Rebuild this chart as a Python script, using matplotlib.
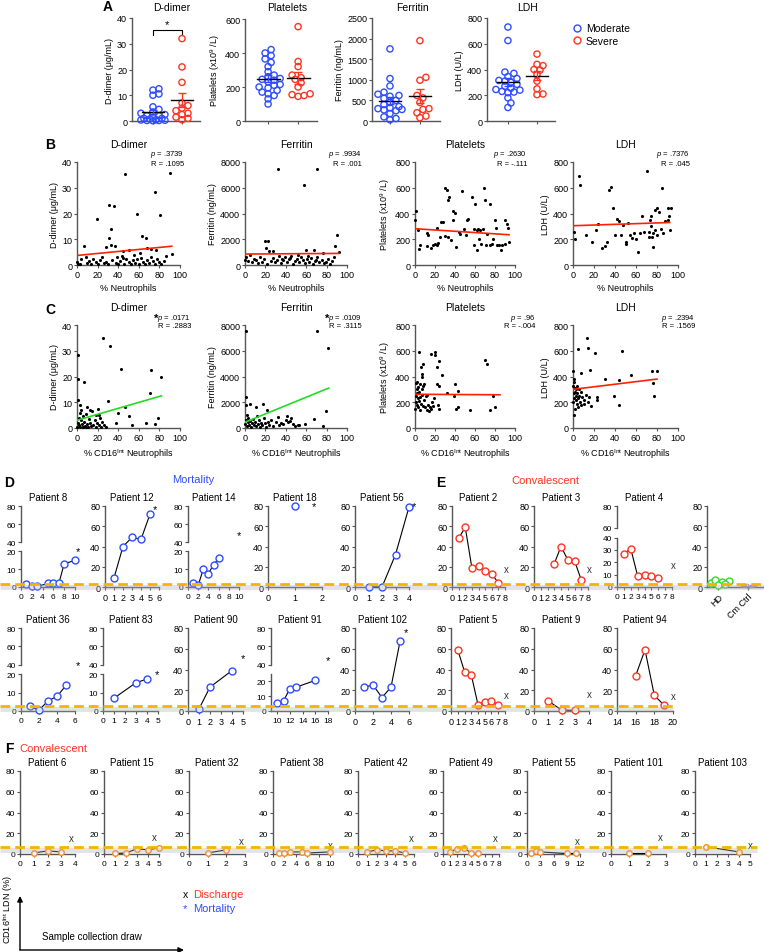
import numpy as np
import matplotlib
matplotlib.use('Agg')
import matplotlib.pyplot as plt

plt.rcParams['font.family'] = 'Liberation Sans'
plt.rcParams['mathtext.fontset'] = 'custom'
plt.rcParams['mathtext.rm'] = 'Liberation Sans'
plt.rcParams['mathtext.it'] = 'Liberation Sans:italic'

W, H = 764, 953
BLUE = '#2f4dff'
RED = '#ff3322'
ORANGE = '#ff8a1c'
GREEN = '#2ddc2d'
GOLD = '#f5b400'
SPINE = '#555555'

# ---------------- panel A data ----------------
ddimer_mod = [12.5, 12, 10.5, 10, 5.5, 4.5, 3.5, 3, 2.5, 2, 2, 1.5, 1, 1, 0.8, 0.5, 0.4, 0.3, 0.2, 0.2, 0.1]
ddimer_sev = [32, 21, 15, 7, 6, 5, 4, 3, 2.5, 1.5, 1, 0.5]
plt_mod = [420, 400, 385, 365, 345, 320, 290, 270, 260, 250, 245, 240, 230, 215, 210, 200, 195, 180, 170, 160, 150, 130, 100]
plt_sev = [555, 350, 320, 270, 255, 245, 225, 200, 160, 155, 150, 145]
ferr_mod = [1750, 1030, 850, 700, 650, 620, 600, 550, 500, 450, 400, 350, 320, 300, 270, 250, 280, 180, 100, 60, 30]
ferr_sev = [1950, 1060, 990, 620, 560, 450, 300, 280, 200, 120, 80]
ldh_mod = [730, 625, 380, 370, 345, 330, 315, 310, 300, 285, 270, 255, 245, 240, 230, 225, 220, 180, 140, 105]
ldh_sev = [520, 440, 430, 400, 395, 360, 310, 250, 210, 205]

# ---------------- panel B data (% neutrophils) ----------------
b_ddimer = np.array([
    [47, 35.2], [90, 35.7], [76, 28.5], [81, 19.3], [31, 23.2], [36, 22.8], [19, 18], [58, 20], [33, 14],
    [31, 10.5], [63, 11.2], [67, 10.3], [7, 7.5], [28, 7], [33, 7.6], [37, 7.5], [45, 5.5], [50, 6], [68, 6.5],
    [72, 6.2], [77, 6], [92, 4.2], [86, 3.5], [61, 4.5], [62, 2.8], [0, 1], [1, 0.3], [3, 0.5], [4, 2.5],
    [9, 3.2], [10, 0.8], [12, 1.5], [14, 0.4], [16, 2.2], [18, 1], [20, 0.3], [22, 1.8], [24, 3], [26, 0.6],
    [28, 1.2], [30, 0.3], [34, 2], [38, 0.8], [40, 0.2], [42, 1.5], [44, 3.5], [46, 0.5], [48, 2.2], [50, 1],
    [52, 0.3], [54, 1.8], [56, 0.6], [58, 2.5], [60, 0.4], [64, 1.2], [66, 0.3], [68, 2], [70, 0.8], [72, 3],
    [74, 1.4], [76, 0.5], [78, 2.3], [80, 1], [82, 0.2], [84, 1.6], [55, 4], [45, 2.8], [39, 3.3]])
b_ferr = np.array([
    [32, 7480], [58, 6200], [71, 7480], [90, 2350], [88, 1500], [20, 1900], [23, 1900], [21, 1350], [24, 1100],
    [27, 1100], [60, 1150], [68, 1150], [76, 900], [92, 1000], [0, 400], [1, 650], [3, 300], [5, 750], [7, 200],
    [9, 500], [11, 350], [13, 150], [15, 600], [17, 250], [19, 450], [22, 100], [25, 300], [27, 550], [29, 200],
    [31, 400], [33, 700], [35, 150], [37, 350], [39, 600], [41, 250], [43, 450], [45, 700], [47, 100], [49, 300],
    [51, 500], [53, 200], [55, 650], [57, 350], [59, 150], [61, 450], [63, 250], [65, 550], [67, 100], [69, 300],
    [71, 600], [73, 200], [75, 400], [77, 150], [79, 250], [81, 500], [83, 100], [85, 300], [87, 650], [52, 800],
    [44, 550], [62, 700], [70, 350], [36, 500]])
b_plat = np.array([
    [0.7, 416], [0, 353], [2.7, 268], [4, 126], [5, 157], [11.7, 250], [13, 235], [12.3, 144], [15.7, 132],
    [18.3, 152], [20, 165], [22.3, 152], [23, 167], [21.7, 287], [25, 217], [26, 333], [27.7, 333], [30, 597],
    [31.7, 579], [33.3, 506], [34.3, 527], [30, 229], [33, 217], [36, 191], [38, 423], [40, 405], [38, 346],
    [41, 140], [46.7, 571], [44.3, 256], [45, 243], [49, 281], [51, 235], [52.3, 346], [53.3, 359], [56.7, 532],
    [60, 475], [59, 281], [61.7, 268], [63.3, 281], [65, 268], [59.3, 157], [61.7, 113], [64.3, 204], [66, 165],
    [68.3, 281], [69.3, 597], [70, 506], [71, 152], [72.3, 243], [75, 475], [76.7, 165], [78.3, 204], [80, 346],
    [80.7, 287], [81.7, 152], [84.3, 152], [86.7, 152], [90, 346], [92.3, 320], [93.3, 287], [90, 165], [94, 175],
    [86, 113], [75, 152]])
b_ldh = np.array([
    [1, 260], [2, 205], [6, 695], [7, 625], [12, 230], [18, 180], [22, 275], [24, 320], [28, 135], [30, 150],
    [32, 175], [34, 585], [36, 605], [38, 440], [40, 230], [42, 355], [44, 340], [46, 230], [48, 310], [50, 175],
    [50, 160], [52, 330], [54, 230], [56, 210], [58, 250], [60, 200], [62, 100], [64, 250], [66, 380], [68, 260],
    [70, 730], [72, 260], [72, 220], [73, 350], [74, 380], [74, 300], [75, 220], [76, 140], [76, 250], [78, 430],
    [78, 270], [80, 230], [80, 440], [82, 410], [84, 280], [85, 600], [86, 250], [88, 340], [90, 445], [90, 350],
    [92, 270], [91, 380], [93, 440]])

# ---------------- panel C data (% CD16int neutrophils) ----------------
c_ddimer = np.array([
    [0.5, 28.5], [0.5, 19], [7, 18], [25, 35], [32, 32], [43, 23], [72, 22.7], [82, 20], [30, 10.5], [71, 13.5],
    [1, 11], [3, 9], [10, 8], [20, 7.5], [40, 6], [47, 8], [21, 5], [50, 4.5], [67, 2], [76, 1.5], [79, 4],
    [38, 2], [53, 1], [0, 0.5], [1, 2], [1.5, 4], [2, 1], [2.5, 6], [3, 0.3], [4, 3], [5, 1.5], [5.5, 0.5],
    [6, 4.5], [7, 2.5], [8, 0.8], [9, 5.5], [10, 1.5], [11, 0.3], [12, 3.5], [13, 2], [14, 0.6], [15, 6.5],
    [16, 1], [17, 3], [18, 0.4], [19, 2], [21, 1], [22, 4], [23, 0.5], [24, 2.5], [26, 1.2], [28, 0.3], [9, 0.2],
    [4, 7], [6, 0.2], [13, 7], [18, 5]])
c_ferr = np.array([
    [0.5, 7500], [71, 7500], [81, 6200], [0.5, 2400], [1, 1800], [5, 1900], [18, 1900], [22, 1400], [11, 1600],
    [68, 700], [41, 900], [45, 800], [79, 1300], [76, 150], [52, 250], [53, 200], [59, 300], [37, 300], [0, 300],
    [1, 600], [1.5, 1000], [2, 150], [2.5, 450], [3, 800], [4, 200], [5, 550], [6, 100], [7, 350], [8, 700],
    [9, 250], [10, 500], [11, 150], [12, 900], [13, 300], [14, 600], [15, 100], [16, 400], [17, 200], [19, 750],
    [20, 350], [21, 100], [23, 500], [24, 250], [25, 650], [27, 150], [30, 450], [33, 200], [35, 350], [40, 650],
    [42, 450], [44, 550], [47, 300], [49, 150], [32, 850]])
c_plat = np.array([
    [4, 590], [6, 475], [8, 500], [7, 420], [7, 400], [9, 345], [8, 330], [16, 575], [20, 590], [20, 570],
    [22, 470], [24, 520], [22, 340], [24, 330], [27, 410], [32, 270], [39, 250], [40, 345], [43, 290], [70, 530],
    [72, 500], [78, 245], [55, 140], [75, 140], [80, 160], [41, 150], [43, 160], [23, 180], [24, 150], [0, 150],
    [0.5, 250], [1, 350], [1, 200], [1.5, 300], [2, 180], [2, 270], [2.5, 230], [3, 320], [3, 160], [3.5, 210],
    [4, 280], [4.5, 140], [5, 240], [6, 190], [6.5, 300], [7, 260], [8, 170], [9, 220], [10, 160], [11, 250],
    [12, 140], [13, 180], [14, 130], [15, 160], [16, 145], [17, 200], [18, 170], [19, 230], [12, 260], [2, 360],
    [5, 340]])
c_ldh = np.array([
    [0, 440], [0.5, 380], [1, 360], [5, 610], [8, 430], [13, 700], [14, 625], [16, 450], [21, 580], [30, 380],
    [44, 370], [47, 600], [55, 410], [75, 440], [80, 440], [76, 350], [77, 250], [17, 170], [23, 220], [44, 180],
    [39, 250], [23, 240], [0, 200], [0, 330], [0.5, 270], [1, 100], [1, 230], [1.5, 310], [2, 150], [2, 280],
    [2.5, 220], [3, 300], [3, 250], [3.5, 190], [4, 330], [4, 270], [5, 230], [5, 160], [6, 300], [6, 250],
    [7, 200], [8, 280], [8, 180], [9, 240], [10, 220], [10, 190], [12, 260], [14, 200], [15, 240]])

# regression lines (x ends, y ends)
b_fits = [([0, 92], [3.7, 7.3]), ([0, 92], [850, 900]), ([0, 94], [282, 235]), ([0, 92], [305, 330])]
c_fits = [([0, 82], [3.0, 12.5]), ([0, 82], [450, 3100]), ([0, 85], [262, 258]), ([0, 80], [300, 380])]
b_stats = [('.3739', '.1095'), ('.9934', '.001'), ('.2630', '-.111'), ('.7376', '.045')]
c_stats = [('.0171', '.2883'), ('.0109', '.3115'), ('.96', '-.004'), ('.2394', '.1569')]
c_signif = [True, True, False, False]

# ---------------- panel D: mortality patients ----------------
p8_day, p8_ldn = [1, 2, 3, 5, 6, 7, 8, 10], [1.5, 0.5, 0.3, 2, 2, 2, 13, 15]
p12_day, p12_ldn = [1, 2, 3, 4, 5], [9, 40, 49, 47, 72]
p14_day, p14_ldn = [1, 2, 3, 4, 5, 6], [2, 1, 10, 7.5, 12.5, 16]
p18_day, p18_ldn = [1], [80]
p56_day, p56_ldn = [1, 2, 3, 4], [0, 0, 32, 79]
p36_day, p36_ldn = [1, 2, 3, 4, 5], [2.5, 0.5, 5.5, 8, 14]
p83_day, p83_ldn = [1, 3, 4], [7, 15.5, 17.5]
p90_day, p90_ldn = [1, 2, 4], [2, 23, 39]
p91_day, p91_ldn = [10, 11, 12, 13, 16], [5.5, 7, 15, 16, 20.5]
p102_day, p102_ldn = [1, 2, 3, 4, 5], [23, 25, 13, 23, 67]
# death marker position (day, value)
p8_death, p12_death, p14_death, p18_death, p56_death = (10.5, 20), (5.6, 77), (10, 48), (1.7, 80), (4.4, 80)
p36_death, p83_death, p90_death, p91_death, p102_death = (6.3, 39), (4.9, 21), (5, 51), (18, 45), (5.7, 76)

# ---------------- panel E: convalescent ----------------
p2_day, p2_ldn = [1, 2, 3, 4, 5, 6, 7], [48, 59, 19, 21, 16, 13, 4]
p3_day, p3_ldn = [3, 4, 5, 6, 7], [23, 40, 27, 26, 7]
p4_day, p4_ldn = [1, 2, 3, 4, 5, 6], [27, 31, 9, 10, 9, 7]
p5_day, p5_ldn = [1, 2, 3, 4, 5, 6, 7], [59, 38, 35, 6, 9, 10, 6]
p9_day, p9_ldn = [1, 2, 3], [10, 1, 0.5]
p94_day, p94_ldn = [16, 17, 18, 19], [34, 59, 15, 6]
p2_dis, p3_dis, p4_dis, p5_dis, p9_dis, p94_dis = (8.2, 18), (8.2, 18), (8.2, 18), (8.2, 15), (4, 16), (20, 14)
hd_ldn = [4, 6, 5, 3, 7, 2]
cm_ldn = [0.5, 1.2, 0.8, 1.5, 0.3, 1.0, 0.6]

# ---------------- panel F: convalescent ----------------
p6_day, p6_ldn = [1, 2, 3], [1, 3, 2]
p15_day, p15_ldn = [1, 2, 3, 4, 5], [0.5, 1, 5, 4, 6]
p32_day, p32_ldn = [1, 2], [1, 4]
p38_day, p38_ldn = [1, 2, 3, 5, 6, 10], [1, 1, 2, 2, 1, 2]
p42_day, p42_ldn = [1, 2, 3, 4, 5], [2, 4, 3, 3, 1]
p49_day, p49_ldn = [1, 2, 3, 4, 5], [2, 5, 6, 1, 0.5]
p55_day, p55_ldn = [1, 2, 3, 9, 11], [1, 3, 2, 0.5, 0.5]
p101_day, p101_ldn = [1, 2], [0.5, 0.5]
p103_day, p103_ldn = [1, 4], [7, 2]
p6_dis, p15_dis, p32_dis, p38_dis, p42_dis = (3.7, 15), (4.6, 16), (2.8, 13), (10, 9), (5.7, 15)
p49_dis, p55_dis, p101_dis, p103_dis = (7.5, 15), (11.5, 13), (2.7, 16), (5, 9)


fig = plt.figure(figsize=(W / 100, H / 100), dpi=100)


def box(l, t, r, b):
    return fig.add_axes([l / W, 1 - b / H, (r - l) / W, (b - t) / H])


def style(ax, fs=6.5):
    for s in ['top', 'right']:
        ax.spines[s].set_visible(False)
    for s in ['left', 'bottom']:
        ax.spines[s].set_color(SPINE)
        ax.spines[s].set_linewidth(1.0)
    ax.tick_params(labelsize=fs, length=2.5, width=0.8, pad=1, color=SPINE)
    ax.patch.set_alpha(0)


def swarm(vals, center, px_x, px_y, d=6.0, cap=14.0):
    # beeswarm-like offsets in pixels, limited to +/- cap
    vals = np.asarray(vals, float)
    xs = np.zeros(len(vals))
    placed = []
    cands = [0.0] + [s * k * d * 0.5 for k in range(1, 30) for s in (1, -1) if k * d * 0.5 <= cap]
    for i in np.argsort(vals):
        yp = vals[i] * px_y
        best, best_d = 0.0, -1
        for off in cands:
            md = min([np.hypot(off - a, yp - b) for a, b in placed] or [99])
            if md >= d * 0.85:
                best = off
                break
            if md > best_d:
                best, best_d = off, md
        placed.append((best, yp))
        xs[i] = center + best / px_x
    return xs


# ================= Panel A =================
a_specs = [
    ((132, 19, 200, 122), (-0.72, 1.62), ddimer_mod, ddimer_sev, 40, [0, 10, 20, 30, 40], 'D-dimer', u'D-dimer (\u03bcg/mL)'),
    ((245, 20, 317, 122), (-0.77, 1.63), plt_mod, plt_sev, 600, [0, 200, 400, 600], 'Platelets', 'Platelets (x10$^{9}$ /L)'),
    ((372, 19, 440, 122), (-0.6, 1.67), ferr_mod, ferr_sev, 2500, [0, 500, 1000, 1500, 2000, 2500], 'Ferritin', 'Ferritin (ng/mL)'),
    ((487, 19, 555, 122), (-0.72, 1.62), ldh_mod, ldh_sev, 800, [0, 200, 400, 600, 800], 'LDH', 'LDH (U/L)'),
]
for (l, t, r, b), xl, mod, sev, ymax, yt, title, ylab in a_specs:
    ax = box(l, t, r, b)
    style(ax)
    ax.set_xlim(*xl)
    ax.set_ylim(0, ymax)
    px_x = (r - l) / (xl[1] - xl[0])
    px_y = (b - t) / ymax
    for k, (vals, col) in enumerate([(mod, BLUE), (sev, RED)]):
        xs = swarm(vals, k, px_x, px_y)
        ax.scatter(xs, vals, s=20, facecolors='none', edgecolors=col, linewidths=1.0, clip_on=False, zorder=3)
        m = np.mean(vals)
        se = np.std(vals, ddof=1) / np.sqrt(len(vals))
        ax.plot([k - 0.38, k + 0.38], [m, m], color='k', lw=1.0, zorder=4)
        ax.errorbar([k], [m], yerr=[se], color=col, capsize=3, lw=1.0, capthick=1.0, zorder=4)
    ax.set_xticks([0, 1])
    ax.set_xticklabels(['', ''])
    ax.set_yticks(yt)
    ax.set_ylabel(ylab, fontsize=6.5, labelpad=2)
    fig.text(((l + r) / 2 + 6) / W, 1 - 8 / H, title, ha='center', va='center', fontsize=7.5)
    if title == 'D-dimer':
        ax.plot([0, 0, 1, 1], [33.5, 35.5, 35.5, 33.5], color='k', lw=0.8)
        ax.text(0.5, 37.5, '*', ha='center', va='center', fontsize=8)

fig.legend(handles=[plt.Line2D([], [], marker='o', ls='none', mfc='none', mec=BLUE, ms=5),
                    plt.Line2D([], [], marker='o', ls='none', mfc='none', mec=RED, ms=5)],
           labels=['Moderate', 'Severe'], loc='upper left', bbox_to_anchor=(566 / W, 1 - 19 / H),
           frameon=False, fontsize=7.5, handletextpad=0.2, labelspacing=0.25, borderpad=0, handlelength=1.2)

# ================= Panels B and C =================
bc_x = [(77, 180), (245, 347), (415, 515), (573, 678)]
bc_titles = ['D-dimer', 'Ferritin', 'Platelets', 'LDH']
bc_ylabels = [u'D-dimer (\u03bcg/mL)', 'Ferritin (ng/mL)', 'Platelets (x10$^{9}$ /L)', 'LDH (U/L)']
bc_ymax = [40, 8000, 800, 800]
bc_yticks = [[0, 10, 20, 30, 40], [0, 2000, 4000, 6000, 8000], [0, 200, 400, 600, 800], [0, 200, 400, 600, 800]]
b_sets = [b_ddimer, b_ferr, b_plat, b_ldh]
c_sets = [c_ddimer, c_ferr, c_plat, c_ldh]
stat_right = [[184, 362, 527, 690], [191, 362, 535, 695]]

for row, (top, bot, sets, fits, stats, xlabel, fitcol) in enumerate([
        (163, 266, b_sets, b_fits, b_stats, '% Neutrophils', ['#ff2200'] * 4),
        (326, 429, c_sets, c_fits, c_stats, '% CD16$^{\\mathrm{Int}}$ Neutrophils', ['#22dd22', '#22dd22', '#ff2200', '#ff2200'])]):
    for j in range(4):
        l, r = bc_x[j]
        ax = box(l, top, r, bot)
        style(ax)
        pts = sets[j]
        ax.scatter(pts[:, 0], pts[:, 1], s=5, color='k', clip_on=False, zorder=3, linewidths=0)
        fx_, fy_ = fits[j]
        ax.plot(fx_, fy_, color=fitcol[j], lw=1.2, zorder=4)
        ax.set_xlim(0, 100)
        ax.set_ylim(0, bc_ymax[j])
        ax.set_xticks([0, 20, 40, 60, 80, 100])
        ax.set_yticks(bc_yticks[j])
        ax.set_ylabel(bc_ylabels[j], fontsize=6.5, labelpad=2)
        ax.set_xlabel(xlabel, fontsize=6.5, labelpad=3)
        fig.text((l + r) / 2 / W, 1 - (top - 18) / H, bc_titles[j], ha='center', va='center', fontsize=7.5)
        p, rv = stats[j]
        xr = stat_right[row][j]
        fig.text(xr / W, 1 - (top - 8) / H, '$p$ = ' + p, ha='right', va='center', fontsize=5.5)
        fig.text(xr / W, 1 - (top + 1) / H, 'R = ' + rv, ha='right', va='center', fontsize=5.5)
        if row == 1 and c_signif[j]:
            fig.text((xr - 33) / W, 1 - (top - 7) / H, '*', ha='right', va='center', fontsize=8,
                     fontweight='bold')

# ================= Panels D, E, F =================
def set_break(ax, lo, hi, top, f_lo, f_hi):
    xp = [-top, 0, lo, hi, top, 2 * top]
    fp = [-f_lo / lo * top, 0, f_lo, f_hi, 1, 1 + (1 - f_hi) / (top - hi) * top]
    ax.set_yscale('function', functions=(lambda v: np.interp(v, xp, fp), lambda v: np.interp(v, fp, xp)))
    ax.set_ylim(0, top)
    ax.spines['left'].set_visible(False)
    tr = ax.get_yaxis_transform()
    ax.plot([0, 0], [0, lo], transform=tr, color=SPINE, lw=1.0, clip_on=False)
    ax.plot([0, 0], [hi, top], transform=tr, color=SPINE, lw=1.0, clip_on=False)


def patient(rect, title, day, ldn, xlim, xt, col, mark=None, sym='*', brk=None, yt=None, ms=5.0, fs=6.5):
    l, t, r, b = rect
    ax = box(l, t, r, b)
    style(ax, fs)
    ax.set_xlim(*xlim)
    if brk:
        set_break(ax, *brk)
    else:
        ax.set_ylim(0, 80)
    ax.set_yticks(yt if yt else [0, 20, 40, 60, 80])
    ax.set_xticks(xt)
    ax.tick_params(axis='x', pad=1.5)
    ax.plot(day, ldn, '-', color='k', lw=0.8, marker='o', ms=ms, mfc='white', mec=col, mew=1.0,
            clip_on=False, zorder=3)
    if mark:
        if sym == '*':
            ax.text(mark[0], mark[1], '*', ha='center', va='center', fontsize=8, clip_on=False)
        else:
            ax.text(mark[0], mark[1], 'x', ha='center', va='center', fontsize=7, color='#333333', clip_on=False)
    fig.text((l + r) / 2 / W, 1 - (t - 9) / H, title, ha='center', va='center', fontsize=7)
    return ax


BRK20 = (20, 40, 80, 0.44, 0.555)
YT20 = [0, 10, 20, 40, 60, 80]

# row 1
patient((21, 507, 75, 588), 'Patient 8', p8_day, p8_ldn, (0, 10), [0, 2, 4, 6, 8, 10], BLUE, p8_death, brk=BRK20, yt=YT20, fs=6)
patient((105, 507, 159, 588), 'Patient 12', p12_day, p12_ldn, (0, 6), range(7), BLUE, p12_death)
patient((188, 507, 239, 588), 'Patient 14', p14_day, p14_ldn, (0, 10), [0, 2, 4, 6, 8, 10], BLUE, p14_death, brk=BRK20, yt=YT20, fs=6)
patient((268, 507, 322, 588), 'Patient 18', p18_day, p18_ldn, (0, 2), [0, 1, 2], BLUE, p18_death)
patient((355, 507, 409, 588), 'Patient 56', p56_day, p56_ldn, (0, 4), range(5), BLUE, p56_death)
patient((452, 507, 505, 588), 'Patient 2', p2_day, p2_ldn, (0, 8), range(9), RED, p2_dis, sym='x')
patient((534, 507, 588, 588), 'Patient 3', p3_day, p3_ldn, (0, 8), range(9), RED, p3_dis, sym='x')
patient((617, 507, 672, 588), 'Patient 4', p4_day, p4_ldn, (0, 8), range(9), RED, p4_dis, sym='x',
        brk=(40, 60, 80, 0.61, 0.73), yt=[0, 10, 20, 30, 40, 60, 80], fs=6)

# healthy donors / control
ax = box(707, 507, 763, 588)
style(ax)
ax.set_xlim(-0.37, 1.5)
ax.set_ylim(0, 80)
ax.set_yticks([0, 20, 40, 60, 80])
hd_x = swarm(hd_ldn, 0, 30, 83 / 80, d=7, cap=12)
ax.plot(hd_x, hd_ldn, 'o', ms=5, mfc='white', mec=GREEN, mew=1.0, clip_on=False, zorder=3)
cm_x = swarm(cm_ldn, 1, 30, 83 / 80, d=3, cap=8)
ax.plot(cm_x, cm_ldn, 'o', ms=2, mfc='none', mec='#9a9a9a', mew=0.6, clip_on=False, zorder=3)
ax.plot([0.75, 1.25], [np.mean(cm_ldn)] * 2, color='#9a9a9a', lw=0.8)
ax.set_xticks([0, 1])
ax.set_xticklabels(['HD', 'Cm Ctrl'], rotation=45, ha='right', rotation_mode='anchor')

# row 2
patient((21, 629, 75, 712), 'Patient 36', p36_day, p36_ldn, (0, 6), [0, 2, 4, 6], BLUE, p36_death,
        brk=BRK20, yt=YT20, fs=6)
patient((103, 629, 158, 712), 'Patient 83', p83_day, p83_ldn, (0, 5), range(6), BLUE, p83_death,
        brk=BRK20, yt=YT20, fs=6)
patient((188, 629, 243, 712), 'Patient 90', p90_day, p90_ldn, (0, 5), range(6), BLUE, p90_death)
patient((271, 629, 328, 712), 'Patient 91', p91_day, p91_ldn, (9, 18), [10, 12, 14, 16, 18], BLUE, p91_death,
        brk=(25, 40, 80, 0.45, 0.555), yt=YT20, fs=6)
patient((355, 629, 409, 712), 'Patient 102', p102_day, p102_ldn, (0, 6), [0, 2, 4, 6], BLUE, p102_death)
patient((451, 629, 505, 712), 'Patient 5', p5_day, p5_ldn, (0, 8), range(9), RED, p5_dis, sym='x')
patient((534, 629, 589, 712), 'Patient 9', p9_day, p9_ldn, (0, 4), range(5), RED, p9_dis, sym='x')
patient((617, 629, 673, 712), 'Patient 94', p94_day, p94_ldn, (14, 20), [14, 16, 18, 20], RED, p94_dis, sym='x')

# row F
f_specs = [
    ((20, 772, 75, 855), 'Patient 6', p6_day, p6_ldn, (0, 4), range(5), p6_dis),
    ((104, 772, 159, 855), 'Patient 15', p15_day, p15_ldn, (0, 5), range(6), p15_dis),
    ((189, 772, 245, 855), 'Patient 32', p32_day, p32_ldn, (0, 3), range(4), p32_dis),
    ((273, 772, 330, 855), 'Patient 38', p38_day, p38_ldn, (0, 10), [0, 2, 4, 6, 8, 10], p38_dis),
    ((358, 772, 414, 855), 'Patient 42', p42_day, p42_ldn, (0, 6), range(7), p42_dis),
    ((443, 772, 499, 855), 'Patient 49', p49_day, p49_ldn, (0, 8), range(9), p49_dis),
    ((527, 772, 580, 855), 'Patient 55', p55_day, p55_ldn, (0, 12), [0, 3, 6, 9, 12], p55_dis),
    ((611, 772, 666, 855), 'Patient 101', p101_day, p101_ldn, (0, 3), range(4), p101_dis),
    ((695, 772, 750, 855), 'Patient 103', p103_day, p103_ldn, (0, 5), range(6), p103_dis),
]
for rect, title, day, ldn, xl, xt, dis in f_specs:
    patient(rect, title, day, ldn, xl, xt, ORANGE, dis, sym='x', ms=4.0, fs=6)

# ================= overlay (pixel coordinates) =================
ov = fig.add_axes([0, 0, 1, 1])
ov.set_xlim(0, W)
ov.set_ylim(H, 0)
ov.axis('off')

for y, x0, x1 in [(585, 0, 764), (707, 0, 673), (848, 0, 757)]:
    ov.plot([x0, x1], [y + 2.5, y + 2.5], color='#b0b0b0', lw=3.5, alpha=0.35, solid_capstyle='butt')
    ov.plot([x0, x1], [y, y], color=GOLD, lw=2.0, dashes=(3.5, 1.8))

ov.text(108, 7, 'A', fontsize=10, fontweight='bold', ha='center', va='center')
ov.text(50, 145, 'B', fontsize=10, fontweight='bold', ha='center', va='center')
ov.text(50, 310, 'C', fontsize=10, fontweight='bold', ha='center', va='center')
ov.text(9, 483, 'D', fontsize=10, fontweight='bold', ha='center', va='center')
ov.text(441, 483, 'E', fontsize=10, fontweight='bold', ha='center', va='center')
ov.text(9, 749, 'F', fontsize=10, fontweight='bold', ha='center', va='center')
ov.text(193, 480, 'Mortality', color=BLUE, fontsize=8, ha='center', va='center')
ov.text(545, 481, 'Convalescent', color=RED, fontsize=8, ha='center', va='center')
ov.text(19, 749, 'Convalescent', color=RED, fontsize=8, ha='left', va='center')

ov.text(183, 895, 'x', fontsize=7.5, ha='left', va='center')
ov.text(193, 895, 'Discharge', color=RED, fontsize=8, ha='left', va='center')
ov.text(183, 909, '*', fontsize=8, color=BLUE, ha='left', va='center')
ov.text(193, 909, 'Mortality', color=BLUE, fontsize=8, ha='left', va='center')

ov.text(8, 910, 'CD16$^{\\mathrm{Int}}$ LDN (%)', rotation=90, fontsize=6.5, ha='center', va='center')
ov.annotate('', xy=(20, 897), xytext=(20, 951), arrowprops=dict(arrowstyle='-|>', lw=1.0, color='k',
                                                                   mutation_scale=8, shrinkA=0, shrinkB=0))
ov.annotate('', xy=(184, 951), xytext=(20, 951), arrowprops=dict(arrowstyle='-|>', lw=1.0, color='k',
                                                                    mutation_scale=8, shrinkA=0, shrinkB=0))
ov.text(42, 937, 'Sample collection draw', fontsize=7, ha='left', va='center')

fig.savefig('out.png', dpi=100)
